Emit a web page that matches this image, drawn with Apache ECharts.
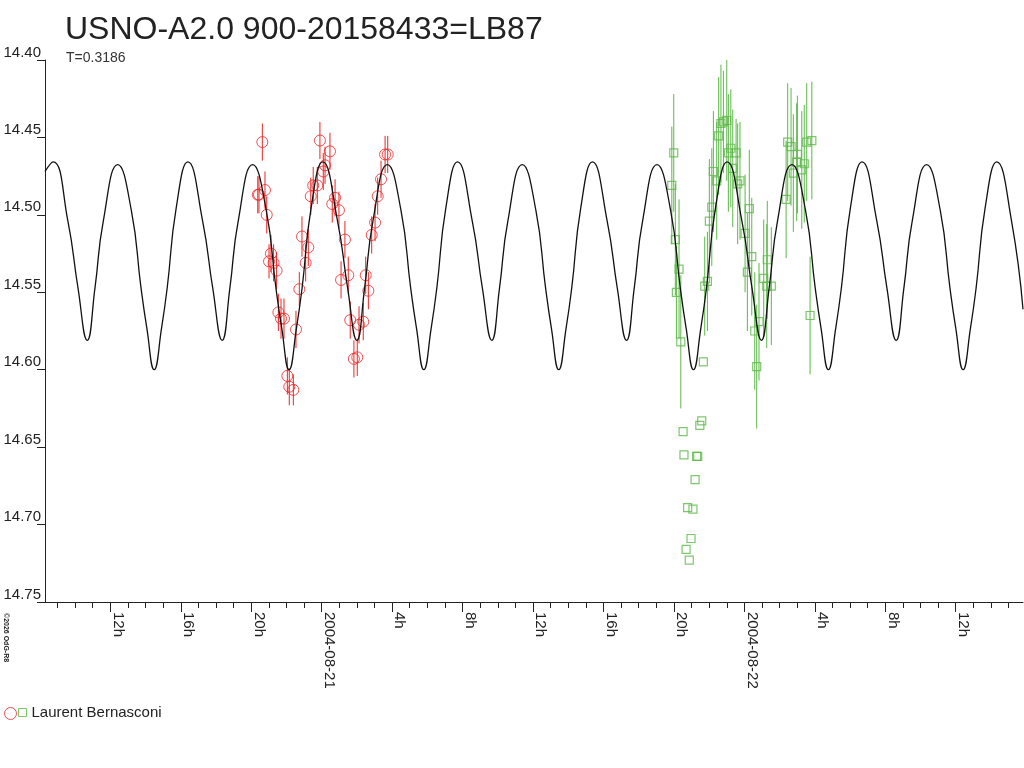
<!DOCTYPE html>
<html>
<head>
<meta charset="utf-8">
<title>USNO-A2.0 900-20158433=LB87</title>
<script src="https://cdn.jsdelivr.net/npm/echarts@6.0.0/dist/echarts.min.js"></script>
<style>
html, body { margin: 0; padding: 0; background: #fff; }
#main { width: 1024px; height: 768px; }
</style>
</head>
<body>
<div id="main"></div>
<script>
// x values are hours (UT) counted from 2004-08-20 00:00
var redTime = [20.63, 20.37, 20.44, 20.78, 20.88, 21.12, 21.01, 21.27, 21.44, 21.54, 21.69, 21.86, 22.54, 22.05, 22.16, 22.39,
    22.73, 22.88, 23.24, 23.09, 23.38, 23.52, 23.75, 23.90, 24.47, 24.19, 24.09, 24.60, 24.76, 24.98, 25.32, 25.10,
    25.51, 25.62, 26.12, 26.36, 25.83, 26.02, 26.50, 26.65, 26.84, 27.03, 27.18, 27.37, 27.60, 27.75];
var redMag = [14.453, 14.487, 14.487, 14.484, 14.500, 14.525, 14.530, 14.531, 14.536, 14.563, 14.567, 14.567, 14.574, 14.604, 14.611, 14.613,
    14.548, 14.514, 14.521, 14.531, 14.488, 14.481, 14.481, 14.452, 14.459, 14.468, 14.472, 14.493, 14.489, 14.497, 14.516, 14.542,
    14.539, 14.568, 14.571, 14.569, 14.593, 14.592, 14.539, 14.549, 14.513, 14.505, 14.488, 14.477, 14.461, 14.461];
var redErr = [0.012, 0.012, 0.012, 0.012, 0.012, 0.012, 0.011, 0.012, 0.012, 0.012, 0.013, 0.013, 0.012, 0.012, 0.012, 0.010,
    0.011, 0.013, 0.012, 0.012, 0.012, 0.012, 0.012, 0.012, 0.012, 0.012, 0.012, 0.012, 0.012, 0.012, 0.012, 0.012,
    0.012, 0.012, 0.012, 0.012, 0.012, 0.012, 0.012, 0.012, 0.012, 0.012, 0.012, 0.012, 0.012, 0.012];

var greenTime = [43.99, 43.88, 44.08, 44.29, 44.14, 44.39,
    44.52, 44.57, 44.69, 44.78, 44.87, 44.97, 45.08, 45.20, 45.29, 45.35, 45.47, 45.58, 45.67,
    45.75, 45.90, 46.01, 46.15, 46.24, 46.43, 46.54, 46.67, 46.81, 47.00,
    47.09, 47.23, 47.34, 47.53, 47.62, 47.75, 48.04, 48.17, 48.28, 48.42,
    48.59, 48.70, 48.83, 49.10, 49.27, 49.30, 49.53,
    50.37, 50.46, 50.65, 50.78, 50.97, 51.01, 51.26, 51.40, 51.54, 51.73, 51.83];
var greenMag = [14.460, 14.481, 14.516, 14.535, 14.550, 14.582,
    14.640, 14.655, 14.716, 14.689, 14.723, 14.709, 14.690, 14.671, 14.656, 14.656, 14.636, 14.633, 14.595,
    14.546, 14.543, 14.504, 14.495, 14.472, 14.478, 14.449, 14.441, 14.440, 14.439,
    14.460, 14.457, 14.470, 14.460, 14.480, 14.478, 14.512, 14.537, 14.496, 14.527,
    14.575, 14.598, 14.569, 14.541, 14.546, 14.529, 14.546,
    14.490, 14.453, 14.456, 14.473, 14.466, 14.461, 14.471, 14.467, 14.453, 14.565, 14.452];
var greenErr = [0.038, 0.038, 0.036, 0.045, 0.030, 0.043,
    0, 0, 0, 0, 0, 0, 0, 0, 0, 0, 0, 0, 0,
    0.032, 0.032, 0.040, 0.038, 0.039, 0.038, 0.038, 0.038, 0.033, 0.039,
    0.038, 0.038, 0.038, 0.022, 0.039, 0.038, 0.038, 0.038, 0.038, 0.038,
    0.038, 0.040, 0.038, 0.038, 0.040, 0.038, 0.038,
    0.038, 0.038, 0.038, 0.038, 0.038, 0.038, 0.038, 0.038, 0.038, 0.038, 0.038];

// fitted light curve (extrema and flanks)
var fitTime = [8.29, 8.75, 9.59, 10.16,
    10.69, 11.13, 11.60, 12.42, 13.19, 13.74, 14.07, 14.49, 14.91, 15.23, 15.74, 16.40, 17.24, 17.81,
    18.35, 18.79, 19.26, 20.08, 20.85, 21.40, 21.73, 22.15, 22.57, 22.89, 23.40, 24.06, 24.90, 25.47,
    26.00, 26.44, 26.91, 27.73, 28.50, 29.05, 29.38, 29.80, 30.22, 30.54, 31.05, 31.71, 32.55, 33.12,
    33.66, 34.10, 34.57, 35.39, 36.16, 36.71, 37.04, 37.46, 37.88, 38.20, 38.71, 39.37, 40.21, 40.78,
    41.31, 41.75, 42.22, 43.04, 43.81, 44.36, 44.69, 45.11, 45.53, 45.85, 46.36, 47.02, 47.86, 48.43,
    48.97, 49.41, 49.88, 50.70, 51.47, 52.02, 52.35, 52.77, 53.19, 53.51, 54.02, 54.68, 55.52, 56.09,
    56.62, 57.06, 57.53, 58.35, 59.12, 59.67, 60.00, 60.42, 60.84, 61.16, 61.67, 62.33, 63.17, 63.82];
var fitMag = [14.472, 14.4658, 14.504, 14.547,
    14.581, 14.547, 14.504, 14.4675, 14.497, 14.547, 14.573, 14.600, 14.573, 14.547, 14.4955, 14.4658, 14.504, 14.547,
    14.581, 14.547, 14.504, 14.4675, 14.497, 14.547, 14.573, 14.600, 14.573, 14.547, 14.4955, 14.4658, 14.504, 14.547,
    14.581, 14.547, 14.504, 14.4675, 14.497, 14.547, 14.573, 14.600, 14.573, 14.547, 14.4955, 14.4658, 14.504, 14.547,
    14.581, 14.547, 14.504, 14.4675, 14.497, 14.547, 14.573, 14.600, 14.573, 14.547, 14.4955, 14.4658, 14.504, 14.547,
    14.581, 14.547, 14.504, 14.4675, 14.497, 14.547, 14.573, 14.600, 14.573, 14.547, 14.4955, 14.4658, 14.504, 14.547,
    14.581, 14.547, 14.504, 14.4675, 14.497, 14.547, 14.573, 14.600, 14.573, 14.547, 14.4955, 14.4658, 14.504, 14.547,
    14.581, 14.547, 14.504, 14.4675, 14.497, 14.547, 14.573, 14.600, 14.573, 14.547, 14.4955, 14.4658, 14.504, 14.561];

var minorTickHours = [9, 10, 11, 12, 13, 14, 15, 16, 17, 18, 19, 20, 21, 22, 23, 24, 25, 26, 27, 28, 29, 30, 31, 32, 33, 34, 35, 36,
    37, 38, 39, 40, 41, 42, 43, 44, 45, 46, 47, 48, 49, 50, 51, 52, 53, 54, 55, 56, 57, 58, 59, 60, 61, 62, 63];
var majorTickHours = [12, 16, 20, 24, 28, 32, 36, 40, 44, 48, 52, 56, 60];
var majorTickLabels = ['12h', '16h', '20h', '2004-08-21', '4h', '8h', '12h', '16h', '20h', '2004-08-22', '4h', '8h', '12h'];

var redName = 'Laurent Bernasconi (2004-08-20)';
var greenName = 'Laurent Bernasconi';
var red = '#ee2424';
var green = '#5cb848';
var ink = '#222222';
var ff = '"Liberation Sans", Arial, sans-serif';

function zip(t, m, e) {
    var out = [];
    for (var i = 0; i < t.length; i++) {
        out.push(e ? [t[i], m[i], e[i]] : [t[i], m[i]]);
    }
    return out;
}

function renderErrorBar(params, api) {
    var x = api.value(0), m = api.value(1), e = api.value(2);
    if (!e) return null;
    var a = api.coord([x, m - e]);
    var b = api.coord([x, m + e]);
    return {
        type: 'line',
        shape: { x1: a[0], y1: a[1], x2: b[0], y2: b[1] },
        style: { stroke: api.visual('color'), lineWidth: 1 }
    };
}

var myChart = echarts.init(document.getElementById('main'));

var option = {
    animation: false,
    backgroundColor: '#fff',
    textStyle: { fontFamily: ff },
    title: [{
        text: 'USNO-A2.0 900-20158433=LB87',
        left: 65, top: 14, padding: 0,
        textStyle: { fontSize: 32, fontWeight: 'normal', color: ink, fontFamily: ff }
    }, {
        text: 'T=0.3186',
        left: 66, top: 51, padding: 0,
        textStyle: { fontSize: 14, fontWeight: 'normal', color: '#333', fontFamily: ff }
    }],
    legend: [{
        data: [redName],
        left: 4, top: 707, padding: 0, itemGap: 0,
        itemWidth: 12, itemHeight: 12,
        selectedMode: false,
        itemStyle: { borderWidth: 1 },
        formatter: function () { return ''; }
    }, {
        data: [greenName],
        left: 18, top: 705, padding: 0, itemGap: 0,
        itemWidth: 8, itemHeight: 8,
        selectedMode: false,
        itemStyle: { borderWidth: 1 },
        textStyle: { fontSize: 15, color: ink, fontFamily: ff }
    }],
    graphic: [{
        type: 'text',
        x: 9, y: 613,
        rotation: -Math.PI / 2,
        style: { text: '\u00a92026 OdG-R8', fontSize: 7, fontWeight: 'bold', fill: ink, verticalAlign: 'top', fontFamily: ff }
    }],
    grid: { left: 45, right: 1, top: 60, bottom: 166, containLabel: false },
    xAxis: [{
        type: 'value',
        position: 'bottom',
        min: 8.29, max: 63.82,
        axisLine: { show: true, lineStyle: { color: ink, width: 1 } },
        axisTick: { show: true, length: 6, customValues: minorTickHours, lineStyle: { color: ink } },
        axisLabel: { show: false },
        splitLine: { show: false }
    }, {
        type: 'value',
        position: 'bottom',
        min: 8.29, max: 63.82,
        axisLine: { show: false },
        axisTick: { show: true, length: 10, customValues: majorTickHours, lineStyle: { color: ink } },
        axisLabel: {
            customValues: majorTickHours,
            rotate: -90,
            margin: 10,
            verticalAlign: 'bottom',
            fontSize: 15,
            lineHeight: 15,
            color: ink,
            fontFamily: ff,
            formatter: function (v) {
                var i = majorTickHours.indexOf(Math.round(v));
                return i < 0 ? '' : majorTickLabels[i];
            }
        },
        splitLine: { show: false }
    }],
    yAxis: {
        type: 'value',
        inverse: true,
        min: 14.40, max: 14.75, interval: 0.05,
        axisLine: { show: true, lineStyle: { color: ink, width: 1 } },
        axisTick: { show: true, length: 8, lineStyle: { color: ink } },
        axisLabel: {
            margin: 4,
            verticalAlign: 'bottom',
            fontSize: 15,
            lineHeight: 15,
            color: ink,
            fontFamily: ff,
            formatter: function (v) { return v.toFixed(2); }
        },
        splitLine: { show: false }
    },
    series: [{
        name: 'red errors',
        type: 'custom',
        renderItem: renderErrorBar,
        itemStyle: { color: red },
        encode: { x: 0, y: 1 },
        data: zip(redTime, redMag, redErr),
        clip: true,
        silent: true,
        z: 1
    }, {
        name: 'green errors',
        type: 'custom',
        renderItem: renderErrorBar,
        itemStyle: { color: green },
        encode: { x: 0, y: 1 },
        data: zip(greenTime, greenMag, greenErr),
        clip: true,
        silent: true,
        z: 1
    }, {
        name: 'fit',
        type: 'line',
        data: zip(fitTime, fitMag),
        showSymbol: false,
        smooth: 0.5,
        lineStyle: { color: '#111', width: 1.3 },
        silent: true,
        z: 3
    }, {
        name: redName,
        type: 'scatter',
        symbol: 'circle',
        symbolSize: 11,
        itemStyle: { color: 'transparent', borderColor: red, borderWidth: 1 },
        data: zip(redTime, redMag),
        z: 2
    }, {
        name: greenName,
        type: 'scatter',
        symbol: 'rect',
        symbolSize: 8,
        itemStyle: { color: 'transparent', borderColor: green, borderWidth: 1.2 },
        data: zip(greenTime, greenMag),
        z: 2
    }]
};

myChart.setOption(option);
</script>
</body>
</html>
